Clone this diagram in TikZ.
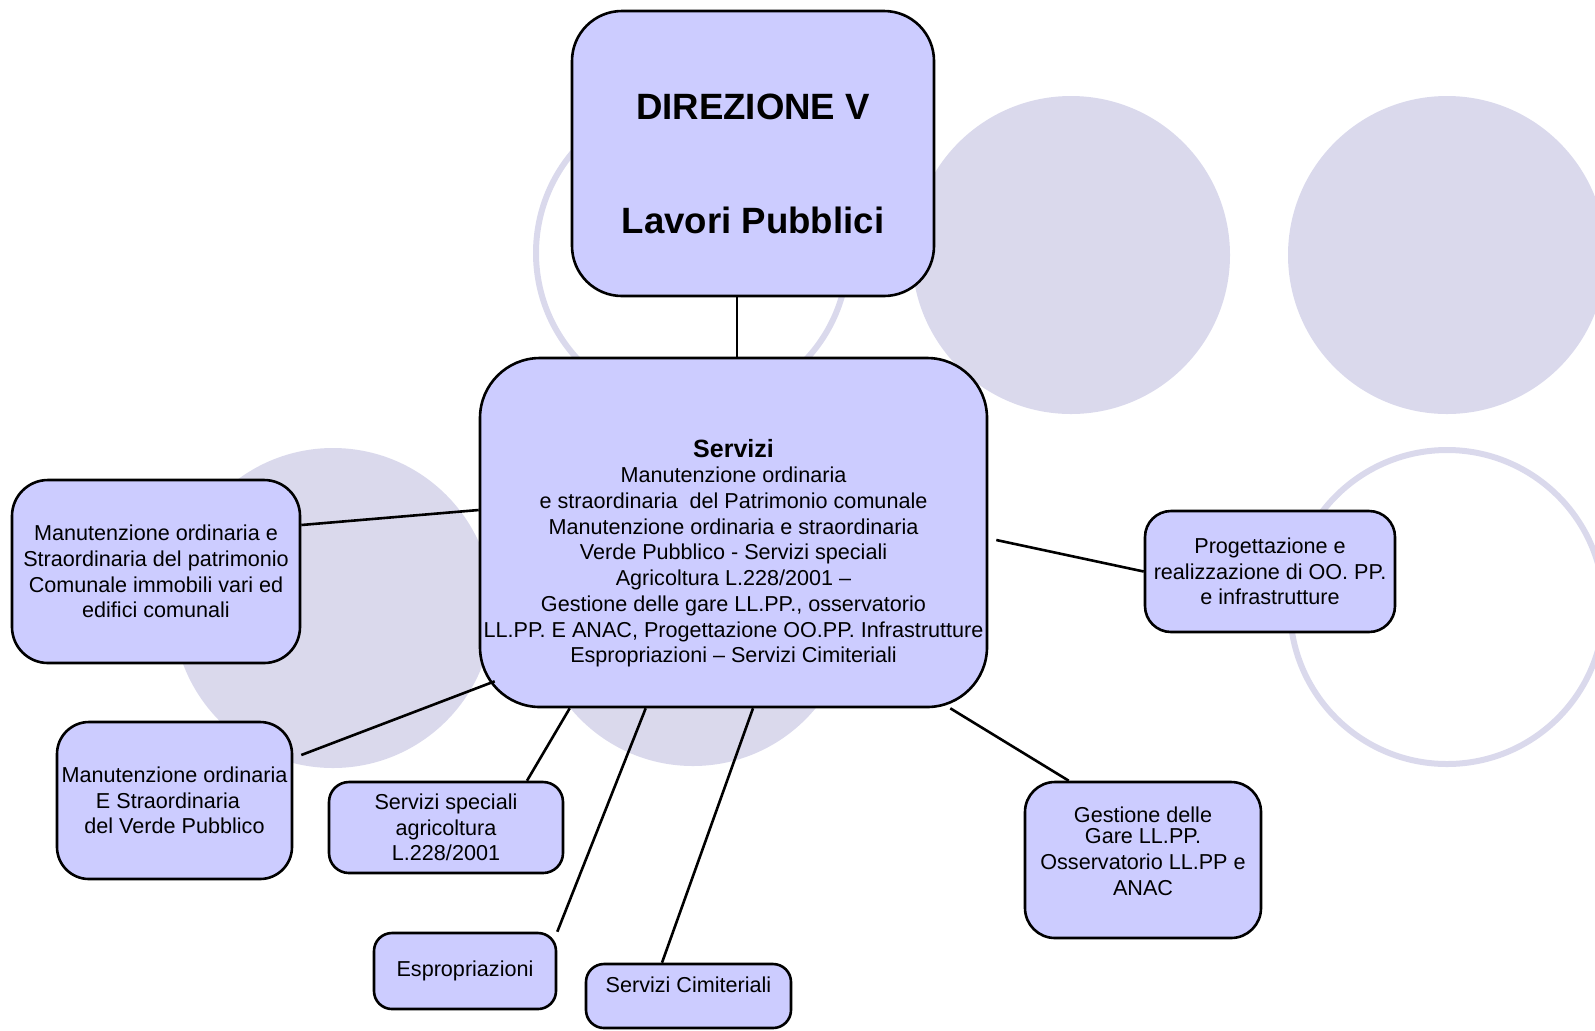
\documentclass[tikz,border=0pt]{standalone}
\usepackage{fontspec}
\setmainfont{Liberation Sans}
\definecolor{boxfill}{HTML}{CCCCFF}
\definecolor{bubble}{HTML}{DAD9EC}
\begin{document}
\begin{tikzpicture}[x=0.5pt, y=-0.5pt,
  ufficio/.style={draw, line width=1.3pt, fill=boxfill, rectangle, inner sep=0pt, align=center,
    font=\fontsize{10.8}{12.85}\selectfont},
  link/.style={line width=1.3pt}]
\useasboundingbox (0,0) rectangle (1595,1030);
\fill[bubble] (1071,255) circle [radius=159];
\fill[bubble] (1447,255) circle [radius=159];
\fill[bubble] (333,608) circle [radius=160];
\fill[bubble] (693,607) circle [radius=159];
\draw[bubble, line width=3pt] (692,253) circle [radius=156];
\draw[bubble, line width=3pt] (1447,607) circle [radius=157];
\node[ufficio, minimum width=181pt, minimum height=142.5pt, rounded corners=25pt,
  font=\bfseries\fontsize{18.3}{22}\selectfont] (dir) at (753,153.5)
  {\\[1pt]DIREZIONE V\\[35pt]Lavori Pubblici};
\node[ufficio, minimum width=253.5pt, minimum height=174.5pt, rounded corners=30pt] (serv) at (733.5,532.5)
  {\\[16.8pt]{\bfseries\fontsize{12.5}{13}\selectfont Servizi}\\
  Manutenzione ordinaria\\
  e straordinaria\ \ del Patrimonio comunale\\
  Manutenzione ordinaria e straordinaria\\
  Verde Pubblico - Servizi speciali\\
  Agricoltura L.228/2001 --\\
  Gestione delle gare LL.PP., osservatorio\\
  LL.PP. E ANAC, Progettazione OO.PP. Infrastrutture\\
  Espropriazioni -- Servizi Cimiteriali};
\node[ufficio, minimum width=144pt, minimum height=91.5pt, rounded corners=18pt] (patr) at (156,571.5)
  {Manutenzione ordinaria e\\Straordinaria del patrimonio\\Comunale immobili vari ed\\edifici comunali};
\node[ufficio, minimum width=117.5pt, minimum height=78.5pt, rounded corners=16pt] (verde) at (174.5,800.5)
  {Manutenzione ordinaria\\E Straordinaria\kern6.5pt\\del Verde Pubblico};
\node[ufficio, minimum width=117pt, minimum height=45.5pt, rounded corners=10pt] (agri) at (446,827.5)
  {Servizi speciali\\agricoltura\\L.228/2001};
\node[ufficio, minimum width=91pt, minimum height=38pt, rounded corners=9pt] (espr) at (465,971)
  {Espropriazioni};
\node[ufficio, minimum width=102.5pt, minimum height=32pt, rounded corners=9pt] (cimit) at (688.5,996)
  {Servizi Cimiteriali\\[-2pt]};
\node[ufficio, minimum width=125pt, minimum height=60.5pt, rounded corners=13pt] (prog) at (1270,571.5)
  {Progettazione e\\realizzazione di OO. PP.\\e infrastrutture};
\node[ufficio, minimum width=118pt, minimum height=78pt, rounded corners=15pt] (gare) at (1143,860)
  {Gestione delle\\[-2.3pt]Gare LL.PP.\\Osservatorio LL.PP e\\ANAC\\[-4pt]};
\draw[line width=1pt] ([xshift=-8pt]dir.south) -- ([xshift=1.75pt]serv.north);
\draw[link] ([yshift=23.25pt]patr.east) -- ([yshift=11.25pt]serv.west);
\draw[link] ([xshift=4pt, yshift=22.75pt]verde.east) -- ([xshift=8pt, yshift=13.5pt]serv.south west);
\draw[link] ([xshift=40.5pt]agri.north) -- ([xshift=45.5pt]serv.south west);
\draw[link] (espr.north east) -- ([xshift=83.5pt]serv.south west);
\draw[link] ([xshift=-13.25pt]cimit.north) -- ([xshift=9.75pt]serv.south);
\draw[link] ([xshift=4pt, yshift=-3.75pt]serv.east) -- (prog.west);
\draw[link] ([xshift=-19pt]serv.south east) -- ([xshift=22.5pt]gare.north west);
\end{tikzpicture}
\end{document}
